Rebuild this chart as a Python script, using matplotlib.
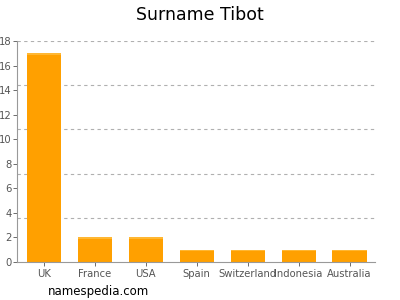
import numpy as np
import matplotlib.pyplot as plt

countries = ['UK', 'France', 'USA', 'Spain', 'Switzerland', 'Indonesia', 'Australia']
counts = [17, 2, 2, 1, 1, 1, 1]
y_ticks = [0, 2, 4, 6, 8, 10, 12, 14, 16, 18]
grid_levels = [3.6, 7.2, 10.8, 14.4, 18]

fig = plt.figure(figsize=(4, 3), dpi=100)
ax = fig.add_axes([0.0425, 0.127, 0.895, 0.736])

x = np.arange(len(countries))
ax.bar(x, counts, width=0.67, color='#FFA000', edgecolor='none', zorder=2)
# lighter top edge on each bar
ax.bar(x, [0.12] * len(counts), bottom=np.array(counts) - 0.12, width=0.67,
       color='#FFB733', edgecolor='none', zorder=3)

for g in grid_levels:
    ax.axhline(g, color='#b0b0b0', linestyle=(0, (3, 3)), linewidth=0.8, zorder=1)

ax.set_xlim(-0.53, 6.5)
ax.set_ylim(0, 18)
ax.set_yticks(y_ticks)
ax.set_xticks(x)
ax.set_xticklabels(countries)
ax.tick_params(axis='both', labelsize=7.2, colors='#555555', length=3, width=0.6)
ax.tick_params(axis='y', pad=1)
ax.tick_params(axis='x', pad=2)

for side in ['top', 'right']:
    ax.spines[side].set_visible(False)
for side in ['left', 'bottom']:
    ax.spines[side].set_color('#999999')
    ax.spines[side].set_linewidth(0.8)

fig.text(0.5, 0.95, 'Surname Tibot', ha='center', va='center', fontsize=12.5)
fig.text(0.12, 0.027, 'namespedia.com', ha='left', va='center', fontsize=8.5)

plt.savefig('out.png', dpi=100)
